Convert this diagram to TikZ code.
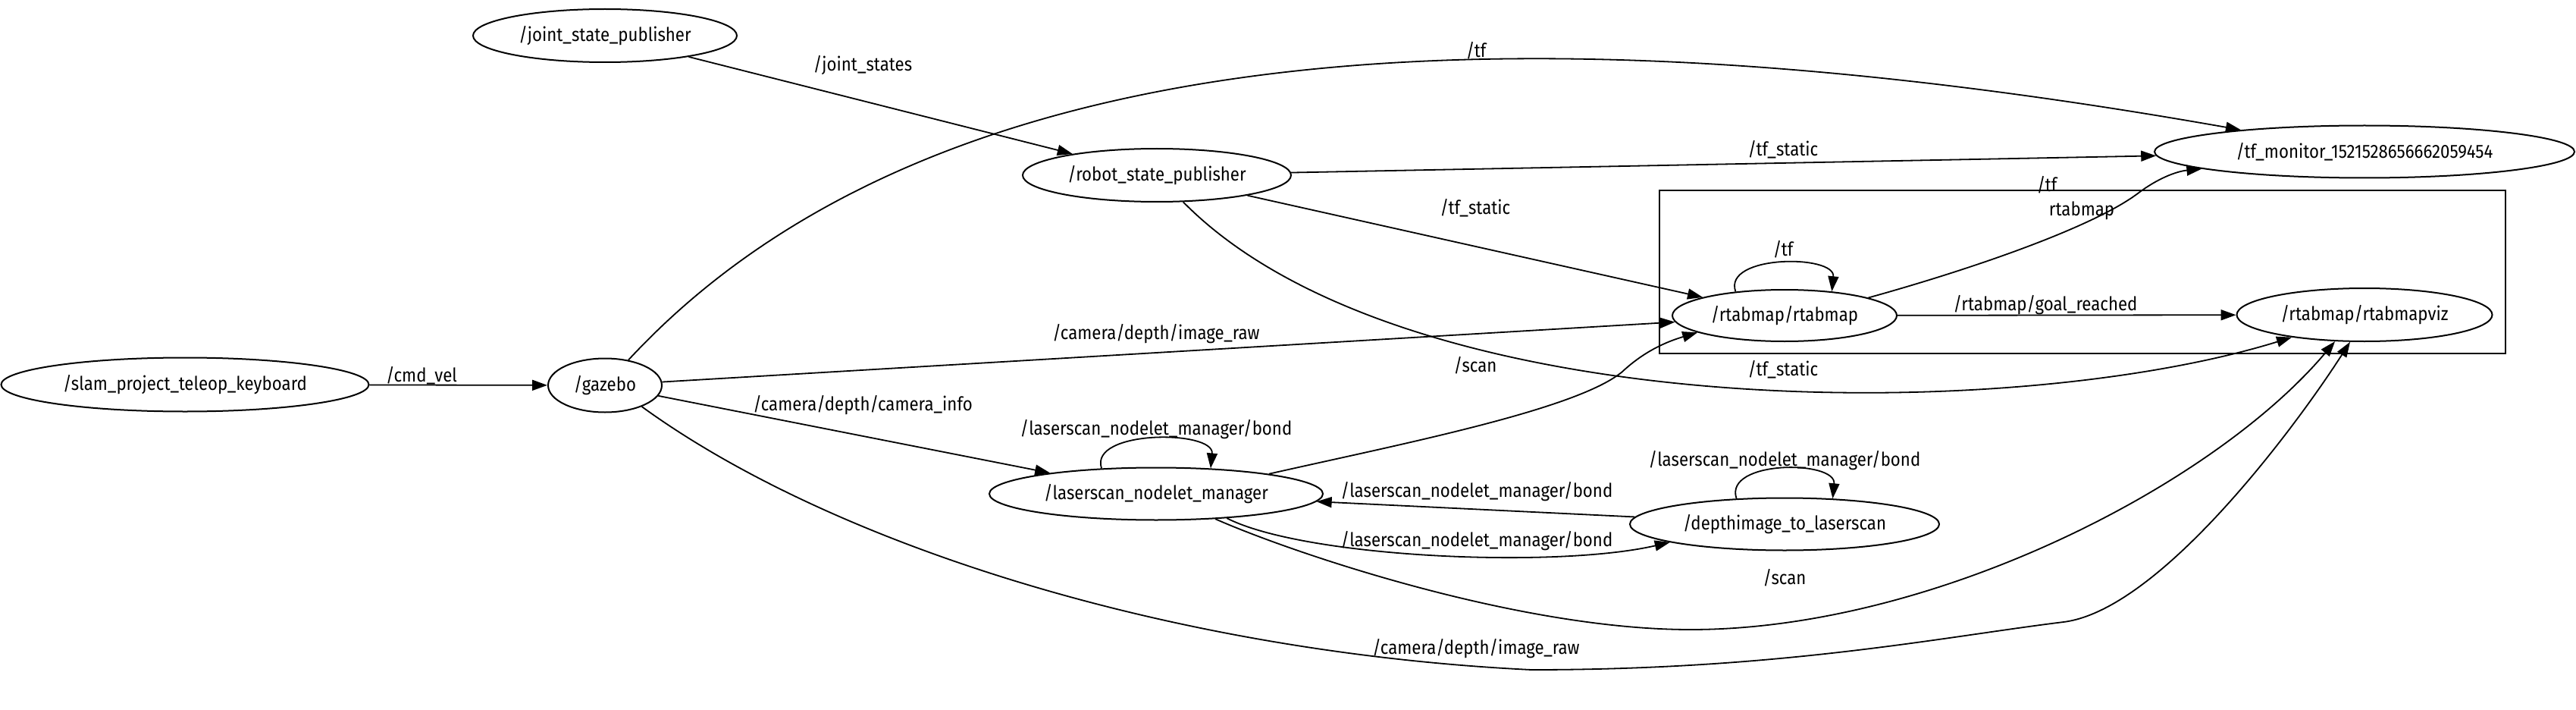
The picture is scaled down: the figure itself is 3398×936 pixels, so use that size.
\documentclass[tikz,border=0pt]{standalone}
\usepackage{fontspec}
\newfontfamily\graphfont[FakeStretch=0.89]{Fira Sans}
\usetikzlibrary{arrows.meta, shapes.geometric}

\begin{document}
\begin{tikzpicture}[
  x=1pt, y=-1pt,
  font=\graphfont\fontsize{25}{30}\selectfont,
  rnode/.style={draw, ellipse, line width=2pt, inner sep=0pt},
  msg/.style={-{Triangle[length=20pt, width=14pt]}, line width=1.8pt},
  lbl/.style={inner sep=0pt},
  frame/.style={draw, line width=2pt},
  ftag/.style={inner sep=0pt}
]
\useasboundingbox (0,0) rectangle (3398,936);

%% ---------- cluster ----------
\draw[frame] (2189,251) rectangle (3305,466);
\node[ftag] (rtabmapgrp) at (2746,278) {rtabmap};

%% ---------- nodes ----------
\node[rnode, minimum width=485pt, minimum height=71pt] (teleop)  at (244,507)  {/slam\_project\_teleop\_keyboard};
\node[rnode, minimum width=150pt, minimum height=71pt] (gazebo)  at (798,508)  {/gazebo};
\node[rnode, minimum width=348pt, minimum height=70pt] (jsp)     at (798,47)   {/joint\_state\_publisher};
\node[rnode, minimum width=354pt, minimum height=70pt] (rsp)     at (1526,231) {/robot\_state\_publisher};
\node[rnode, minimum width=554pt, minimum height=69pt] (tfmon)   at (3119,200) {/tf\_monitor\_1521528656662059454};
\node[rnode, minimum width=296pt, minimum height=68pt] (rtabmap) at (2354,416) {/rtabmap/rtabmap};
\node[rnode, minimum width=337pt, minimum height=70pt] (viz)     at (3119,415) {/rtabmap/rtabmapviz};
\node[rnode, minimum width=440pt, minimum height=69pt] (manager) at (1525,651) {/laserscan\_nodelet\_manager};
\node[rnode, minimum width=408pt, minimum height=69pt] (depth)   at (2354,691) {/depthimage\_to\_laserscan};

%% ---------- topics ----------
\draw[msg] (teleop) -- (gazebo);
\draw[msg] (jsp) -- (rsp);
\draw[msg] (gazebo) .. controls (1250,20) and (2064,14) .. (tfmon);
\draw[msg] (rsp) -- (tfmon);
\draw[msg] (rsp) -- (rtabmap);
\draw[msg] (rsp) .. controls (1850,560) and (2650,560) .. (viz);
\draw[msg] (gazebo) -- (rtabmap);
\draw[msg] (gazebo) -- (manager);
\draw[msg] (gazebo.330) .. controls (1100,720) and (1550,860) .. (2020,883)
  .. controls (2350,883) and (2560,840) .. (2722,820)
  .. controls (2850,804) and (3030,560) .. (viz.242);
\draw[msg] (rtabmap.154) .. controls +(-17,-49) and +(5,-49) .. (rtabmap.27);
\draw[msg] (rtabmap) -- (viz);
\draw[msg] (rtabmap.12) .. controls (2600,355) and (2760,300) .. (2820,255)
  .. controls (2845,236) and (2870,226) .. (tfmon.186);
\draw[msg] (manager.155) .. controls +(-17,-51) and +(5,-51) .. (manager.25);
\draw[msg] (manager.10) .. controls (1850,585) and (2080,540) .. (2140,490)
  .. controls (2170,462) and (2200,450) .. (rtabmap.191);
\draw[msg] (manager.341) .. controls (1720,735) and (2050,750) .. (depth.189);
\draw[msg] (depth) -- (manager);
\draw[msg] (manager.337) .. controls (1700,727) and (2000,830) .. (2230,830)
  .. controls (2550,830) and (2920,640) .. (viz.222);
\draw[msg] (depth.152) .. controls +(-17,-51) and +(5,-51) .. (depth.28);

%% ---------- labels ----------
\node[lbl] (lcmdvel)      at (556,495)  {/cmd\_vel};
\node[lbl] (ljointstates) at (1138,86)  {/joint\_states};
\node[lbl] (ltfgazebo)    at (1947,67)  {/tf};
\node[lbl] (ltfstaticmon) at (2352,197) {/tf\_static};
\node[lbl] (ltfstaticmap) at (1946,274) {/tf\_static};
\node[lbl] (ltfmap)       at (2700,244) {/tf};
\node[lbl] (ltfloop)      at (2352,329) {/tf};
\node[lbl] (lgoal)        at (2698,402) {/rtabmap/goal\_reached};
\node[lbl] (limagemap)    at (1525,440) {/camera/depth/image\_raw};
\node[lbl] (lscanmap)     at (1946,482) {/scan};
\node[lbl] (ltfstaticviz) at (2352,487) {/tf\_static};
\node[lbl] (lcaminfo)     at (1138,534) {/camera/depth/camera\_info};
\node[lbl] (lbondmgr)     at (1525,566) {/laserscan\_nodelet\_manager/bond};
\node[lbl] (lbonddepth)   at (2354,607) {/laserscan\_nodelet\_manager/bond};
\node[lbl] (lbondback)    at (1948,648) {/laserscan\_nodelet\_manager/bond};
\node[lbl] (lbondfwd)     at (1948,713) {/laserscan\_nodelet\_manager/bond};
\node[lbl] (lscanviz)     at (2354,762) {/scan};
\node[lbl] (limageviz)    at (1947,855) {/camera/depth/image\_raw};
\end{tikzpicture}
\end{document}
